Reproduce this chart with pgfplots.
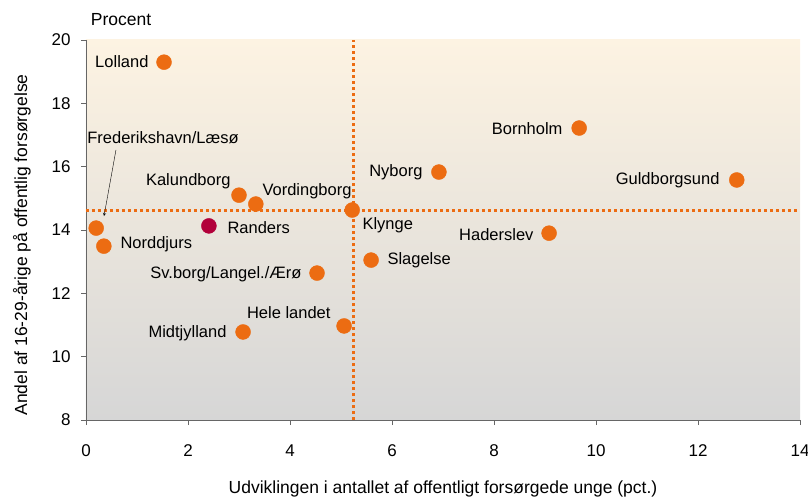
\documentclass[border=0pt]{standalone}
\usepackage{pgfplots}
\pgfplotsset{compat=1.18}
\usepackage{fontspec}
\setmainfont{Liberation Sans}
\definecolor{dot}{RGB}{236,108,18}
\definecolor{rand}{RGB}{178,0,58}
\definecolor{bgtop}{RGB}{253,243,226}
\definecolor{bgbot}{RGB}{214,214,214}
\begin{document}
\begin{tikzpicture}
\begin{axis}[
	scale only axis,
	width=714pt, height=380pt,
	xmin=0, xmax=14, ymin=8, ymax=20,
	xtick={0,2,...,14}, ytick={8,10,...,20},
	axis lines*=left,
	axis line style={draw=black!60, line width=0.9pt},
	tick style={draw=black!60, line width=0.9pt},
	tick align=outside,
	major tick length=5pt,
	font=\fontsize{16.5}{19}\selectfont,
	ticklabel style={font=\fontsize{17}{20}\selectfont},
	xticklabel style={yshift=-26pt, anchor=center},
	yticklabel style={xshift=-7pt},
	/pgf/number format/assume math mode=true,
	xlabel={Udviklingen i antallet af offentligt forsørgede unge (pct.)},
	ylabel={Andel af 16-29-årige på offentlig forsørgelse},
	xlabel style={font=\fontsize{17.5}{20}\selectfont, yshift=-17pt},
	ylabel style={font=\fontsize{17.5}{20}\selectfont, yshift=14pt, xshift=-15pt},
	axis background/.style={top color=bgtop, bottom color=bgbot},
	clip=false,
]
\coordinate (O) at (rel axis cs:0,0);
% reference lines
\addplot[draw=dot, line width=3pt, dash pattern=on 3pt off 3pt] coordinates {(5.25,8) (5.25,20)};
\addplot[draw=dot, line width=3pt, dash pattern=on 3pt off 3pt] coordinates {(0,14.63) (14,14.63)};
% municipalities
\addplot[only marks, mark=*, mark size=7.5pt, mark options={draw=dot, fill=dot}] coordinates {
	(1.53,19.30)
	(0.20,14.06)
	(0.35,13.49)
	(3.00,15.10)
	(3.33,14.82)
	(5.22,14.63)
	(4.53,12.64)
	(5.06,10.97)
	(3.08,10.78)
	(5.59,13.05)
	(6.92,15.83)
	(9.67,17.22)
	(12.76,15.58)
	(9.08,13.90)
};
\addplot[only marks, mark=*, mark size=7.5pt, mark options={draw=rand, fill=rand}] coordinates {(2.41,14.13)};
% labels
\node[anchor=east] at (axis cs:1.294,19.305) {Lolland};
\node at (axis cs:1.51,16.905) {Frederikshavn/Læsø};
\draw[-stealth, thin] (axis cs:0.588,16.53) -- (axis cs:0.353,14.44);
\node[anchor=west] at (axis cs:0.608,13.56) {Norddjurs};
\node[anchor=west] at (axis cs:2.706,14.06) {Randers};
\node[anchor=east] at (axis cs:2.902,15.547) {Kalundborg};
\node[anchor=west] at (axis cs:3.392,15.23) {Vordingborg};
\node[anchor=west] at (axis cs:5.353,14.158) {Klynge};
\node[anchor=east] at (axis cs:4.294,12.61) {Sv.borg/Langel./Ærø};
\node[anchor=east] at (axis cs:4.863,11.38) {Hele landet};
\node[anchor=east] at (axis cs:2.824,10.75) {Midtjylland};
\node[anchor=west] at (axis cs:5.843,13.05) {Slagelse};
\node[anchor=east] at (axis cs:6.667,15.83) {Nyborg};
\node[anchor=east] at (axis cs:9.412,17.19) {Bornholm};
\node[anchor=east] at (axis cs:12.49,15.58) {Guldborgsund};
\node[anchor=east] at (axis cs:8.843,13.87) {Haderslev};
\node[anchor=west, font=\fontsize{17.5}{20}\selectfont] at (rel axis cs:0.002,1.053) {Procent};
\end{axis}
\pgfresetboundingbox
\path (O) ++(-86pt,-78pt) rectangle ++(808pt,498pt);
\end{tikzpicture}
\end{document}
